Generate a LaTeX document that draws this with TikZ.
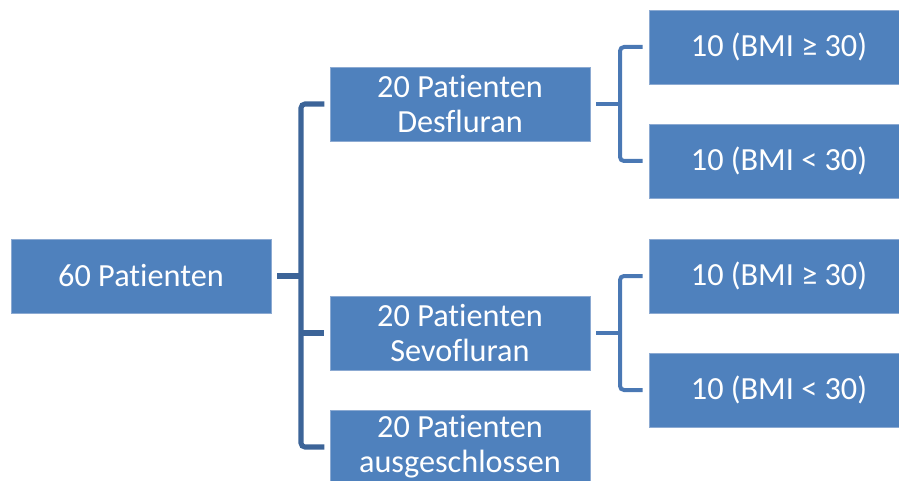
\documentclass[tikz,border=0pt]{standalone}
\usepackage{fontspec}
\setmainfont{Carlito}[Ligatures=NoCommon]
\usetikzlibrary{positioning}
\definecolor{BoxBlue}{RGB}{79,129,189}
\definecolor{BoxEdge}{RGB}{140,170,210}
\definecolor{TrunkBlue}{RGB}{60,100,152}
\definecolor{TwigBlue}{RGB}{74,120,180}

\begin{document}
\begin{tikzpicture}[x=0.75pt, y=-0.75pt,
          pbox/.style={rectangle, fill=BoxBlue, draw=BoxEdge, line width=0.5pt,
                       minimum width=195pt, minimum height=55.5pt, inner sep=0pt,
                       align=center, text=white, font=\fontsize{24.2}{26.4}\selectfont},
          trunk/.style={draw=TrunkBlue, line width=3.8pt, rounded corners=3pt},
          twig/.style={draw=TwigBlue, line width=3pt, rounded corners=3pt}
        ]
        \clip (0,0) rectangle (899,481);
        \useasboundingbox (0,0) rectangle (899,481);

        % Root
        \node[pbox] (root) at (141,276) {60 Patienten};

        % Groups
        \node[pbox] (des) at (460,104) {20 Patienten\\Desfluran};
        \node[pbox] (sev) at (460,333) {20 Patienten\\Sevofluran};
        \node[pbox] (aus) at (460,447) {20 Patienten\\ausgeschlossen};

        % BMI split
        \node[pbox] (desA) at (779,47)  {10 (BMI ≥ 30)};
        \node[pbox] (desB) at (779,161) {10 (BMI < 30)};
        \node[pbox] (sevA) at (779,276) {10 (BMI ≥ 30)};
        \node[pbox] (sevB) at (779,390) {10 (BMI < 30)};

        % Branch points
        \coordinate (hub)  at (301,276);
        \coordinate (hubD) at (620,104);
        \coordinate (hubS) at (620,333);

        % Root -> groups
        \draw[trunk] ([xshift=4.5pt]root.east) -- (hub);
        \draw[trunk] ([xshift=-4pt]des.west) -| (hub) |- ([xshift=-4pt]aus.west);
        \draw[trunk] (hub |- sev.west) -- ([xshift=-4pt]sev.west);

        % Desfluran -> BMI
        \draw[twig] ([xshift=4.5pt]des.east) -- (hubD);
        \draw[twig] ([xshift=-4.5pt]desA.west) -| (hubD) |- ([xshift=-4.5pt]desB.west);

        % Sevofluran -> BMI
        \draw[twig] ([xshift=4.5pt]sev.east) -- (hubS);
        \draw[twig] ([xshift=-4.5pt]sevA.west) -| (hubS) |- ([xshift=-4.5pt]sevB.west);
      \end{tikzpicture}
\end{document}
